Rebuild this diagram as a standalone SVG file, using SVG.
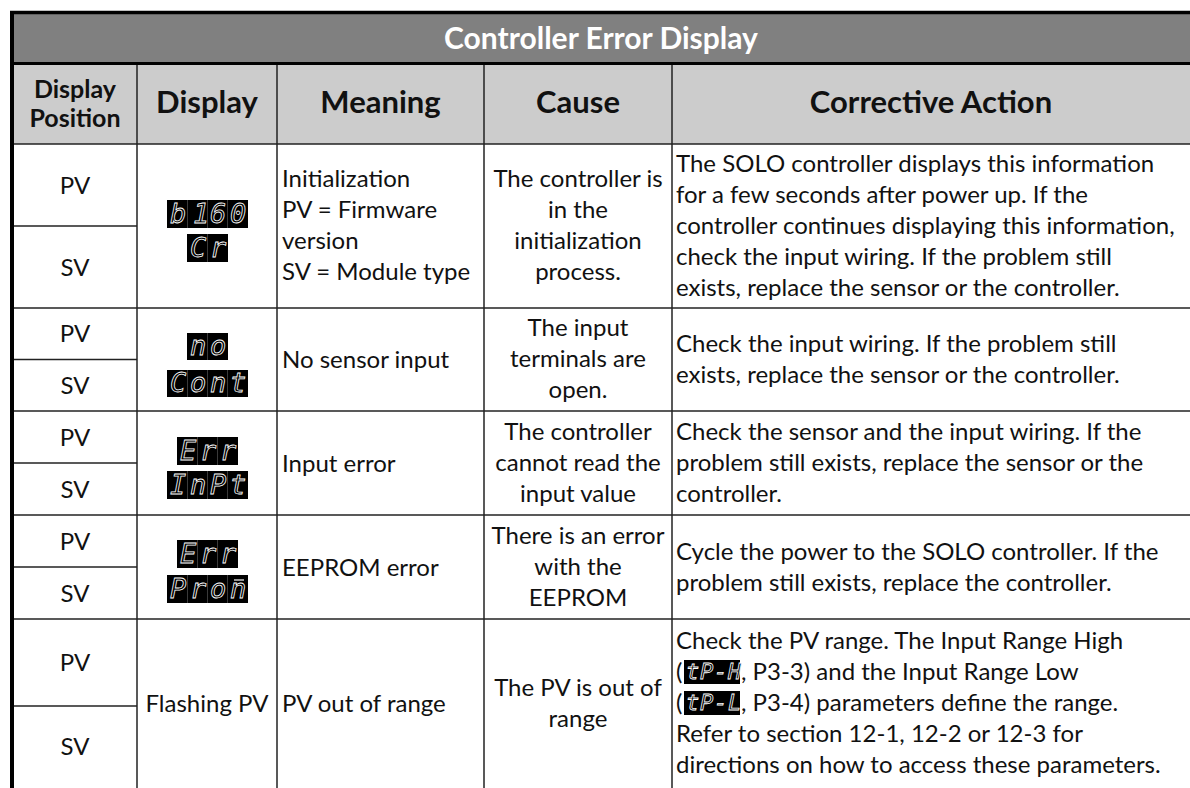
<svg xmlns="http://www.w3.org/2000/svg" width="1190" height="788" viewBox="0 0 1190 788">
  <style>
    .body { font-family: Lato, "Noto Sans", sans-serif; font-size: 24px; fill: #111; }
    .mid { text-anchor: middle; }
    .hdr { font-family: Lato, "Noto Sans", sans-serif; font-weight: bold; fill: #111; text-anchor: middle; }
    .title { font-family: Lato, "Noto Sans", sans-serif; font-weight: bold; font-size: 30px; fill: #fff; text-anchor: middle; }
    .led { fill: #000; }
    .seg { font-family: "DejaVu Sans Mono", "Liberation Mono", monospace; font-style: oblique; font-size: 27px; fill: #000; stroke: #fff; stroke-width: 0.8px; }
    .segs { font-family: "DejaVu Sans Mono", "Liberation Mono", monospace; font-style: oblique; font-size: 22px; fill: #000; stroke: #fff; stroke-width: 0.8px; }
    .cell { stroke: #3a3a3a; stroke-width: 1; }
    .rule { stroke: #222; stroke-width: 1.5; fill: none; }
  </style>

  <!-- background bands -->
  <rect x="0" y="0" width="1190" height="788" fill="#fff"/>
  <rect id="title-band" x="12" y="12" width="1178" height="51" fill="#808080"/>
  <rect id="column-band" x="12" y="64" width="1178" height="80" fill="#cccccc"/>

  <!-- table rules -->
  <g id="connectors">
    <line x1="10" y1="12.5" x2="1190" y2="12.5" stroke="#000" stroke-width="3.5"/>
    <line x1="10" y1="63.5" x2="1190" y2="63.5" stroke="#000" stroke-width="3"/>
    <line x1="12" y1="11" x2="12" y2="788" stroke="#000" stroke-width="4"/>
    <line class="rule" x1="14" y1="144" x2="1190" y2="144"/>
    <line class="rule" x1="137" y1="65" x2="137" y2="788"/>
    <line class="rule" x1="277" y1="65" x2="277" y2="788"/>
    <line class="rule" x1="484" y1="65" x2="484" y2="788"/>
    <line class="rule" x1="672" y1="65" x2="672" y2="788"/>
    <line class="rule" x1="14" y1="308" x2="1190" y2="308"/>
    <line class="rule" x1="14" y1="411" x2="1190" y2="411"/>
    <line class="rule" x1="14" y1="515" x2="1190" y2="515"/>
    <line class="rule" x1="14" y1="619" x2="1190" y2="619"/>
    <line class="rule" x1="14" y1="226" x2="137" y2="226"/>
    <line class="rule" x1="14" y1="359.5" x2="137" y2="359.5"/>
    <line class="rule" x1="14" y1="463" x2="137" y2="463"/>
    <line class="rule" x1="14" y1="567" x2="137" y2="567"/>
    <line class="rule" x1="14" y1="706" x2="137" y2="706"/>
  </g>

  <!-- headings -->
  <g id="title">
    <text class="title" x="601" y="49">Controller Error Display</text>
  </g>
  <g id="columns">
    <text class="hdr" x="75" y="98" font-size="25">Display</text>
    <text class="hdr" x="75" y="127" font-size="25">Position</text>
    <text class="hdr" x="207" y="113" font-size="31">Display</text>
    <text class="hdr" x="380.5" y="113" font-size="31">Meaning</text>
    <text class="hdr" x="578" y="113" font-size="31">Cause</text>
    <text class="hdr" x="931" y="113" font-size="31">Corrective Action</text>
  </g>

  <!-- row 1: initialization -->
  <g id="row-init">
    <text class="body mid" x="75" y="194">PV</text>
    <text class="body mid" x="75" y="276">SV</text>
    <rect class="led" x="167" y="200" width="81" height="28"/>
    <line class="cell" x1="187.5" y1="200" x2="187.5" y2="228"/>
    <line class="cell" x1="207.5" y1="200" x2="207.5" y2="228"/>
    <line class="cell" x1="227.5" y1="200" x2="227.5" y2="228"/>
    <text class="seg" x="170 193 210 230" y="223">b160</text>
    <rect class="led" x="187" y="234" width="41" height="28"/>
    <line class="cell" x1="207.5" y1="234" x2="207.5" y2="262"/>
    <text class="seg" x="190 210" y="257">Cr</text>
    <text class="body" x="282" y="187">Initialization</text>
    <text class="body" x="282" y="218">PV = Firmware</text>
    <text class="body" x="282" y="249">version</text>
    <text class="body" x="282" y="280">SV = Module type</text>
    <text class="body mid" x="578" y="187">The controller is</text>
    <text class="body mid" x="578" y="218">in the</text>
    <text class="body mid" x="578" y="249">initialization</text>
    <text class="body mid" x="578" y="280">process.</text>
    <text class="body" x="676" y="172">The SOLO controller displays this information</text>
    <text class="body" x="676" y="203">for a few seconds after power up. If the</text>
    <text class="body" x="676" y="234">controller continues displaying this information,</text>
    <text class="body" x="676" y="265">check the input wiring. If the problem still</text>
    <text class="body" x="676" y="296">exists, replace the sensor or the controller.</text>
  </g>

  <!-- row 2: no sensor input -->
  <g id="row-nosensor">
    <text class="body mid" x="75" y="342">PV</text>
    <text class="body mid" x="75" y="394">SV</text>
    <rect class="led" x="187" y="333" width="41" height="27"/>
    <line class="cell" x1="207.5" y1="333" x2="207.5" y2="360"/>
    <text class="seg" x="190 210" y="355">no</text>
    <rect class="led" x="167" y="370" width="81" height="27"/>
    <line class="cell" x1="187.5" y1="370" x2="187.5" y2="397"/>
    <line class="cell" x1="207.5" y1="370" x2="207.5" y2="397"/>
    <line class="cell" x1="227.5" y1="370" x2="227.5" y2="397"/>
    <text class="seg" x="170 190 210 230" y="392">Cont</text>
    <text class="body" x="282" y="368">No sensor input</text>
    <text class="body mid" x="578" y="336">The input</text>
    <text class="body mid" x="578" y="367">terminals are</text>
    <text class="body mid" x="578" y="398">open.</text>
    <text class="body" x="676" y="352">Check the input wiring. If the problem still</text>
    <text class="body" x="676" y="383">exists, replace the sensor or the controller.</text>
  </g>

  <!-- row 3: input error -->
  <g id="row-input">
    <text class="body mid" x="75" y="446">PV</text>
    <text class="body mid" x="75" y="498">SV</text>
    <rect class="led" x="177" y="437" width="61" height="28"/>
    <line class="cell" x1="197.5" y1="437" x2="197.5" y2="465"/>
    <line class="cell" x1="217.5" y1="437" x2="217.5" y2="465"/>
    <text class="seg" x="180 200 220" y="460">Err</text>
    <rect class="led" x="167" y="471" width="81" height="28"/>
    <line class="cell" x1="187.5" y1="471" x2="187.5" y2="499"/>
    <line class="cell" x1="207.5" y1="471" x2="207.5" y2="499"/>
    <line class="cell" x1="227.5" y1="471" x2="227.5" y2="499"/>
    <text class="seg" x="170 190 210 230" y="494">InPt</text>
    <text class="body" x="282" y="472">Input error</text>
    <text class="body mid" x="578" y="440">The controller</text>
    <text class="body mid" x="578" y="471">cannot read the</text>
    <text class="body mid" x="578" y="502">input value</text>
    <text class="body" x="676" y="440">Check the sensor and the input wiring. If the</text>
    <text class="body" x="676" y="471">problem still exists, replace the sensor or the</text>
    <text class="body" x="676" y="502">controller.</text>
  </g>

  <!-- row 4: EEPROM error -->
  <g id="row-eeprom">
    <text class="body mid" x="75" y="550">PV</text>
    <text class="body mid" x="75" y="602">SV</text>
    <rect class="led" x="177" y="540" width="61" height="28"/>
    <line class="cell" x1="197.5" y1="540" x2="197.5" y2="568"/>
    <line class="cell" x1="217.5" y1="540" x2="217.5" y2="568"/>
    <text class="seg" x="180 200 220" y="563">Err</text>
    <rect class="led" x="167" y="575" width="81" height="28"/>
    <line class="cell" x1="187.5" y1="575" x2="187.5" y2="603"/>
    <line class="cell" x1="207.5" y1="575" x2="207.5" y2="603"/>
    <line class="cell" x1="227.5" y1="575" x2="227.5" y2="603"/>
    <text class="seg" x="170 190 210 230" y="598">Pron</text>
    <!-- top segment lit above the last digit -->
    <line x1="234" y1="580" x2="244" y2="580" stroke="#fff" stroke-width="1.2"/>
    <text class="body" x="282" y="576">EEPROM error</text>
    <text class="body mid" x="578" y="544">There is an error</text>
    <text class="body mid" x="578" y="575">with the</text>
    <text class="body mid" x="578" y="606">EEPROM</text>
    <text class="body" x="676" y="560">Cycle the power to the SOLO controller. If the</text>
    <text class="body" x="676" y="591">problem still exists, replace the controller.</text>
  </g>

  <!-- row 5: PV out of range -->
  <g id="row-range">
    <text class="body mid" x="75" y="671">PV</text>
    <text class="body mid" x="75" y="755">SV</text>
    <text class="body mid" x="207" y="712">Flashing PV</text>
    <text class="body" x="282" y="712">PV out of range</text>
    <text class="body mid" x="578" y="696">The PV is out of</text>
    <text class="body mid" x="578" y="727">range</text>
    <text class="body" x="676" y="649">Check the PV range. The Input Range High</text>
    <text class="body" x="676" y="680">(</text>
    <rect class="led" x="684" y="660" width="56" height="24"/>
    <text class="segs" x="686 700 714 728" y="679">tP-H</text>
    <text class="body" x="741" y="680">, P3-3) and the Input Range Low</text>
    <text class="body" x="676" y="711">(</text>
    <rect class="led" x="684" y="691" width="56" height="24"/>
    <text class="segs" x="686 700 714 728" y="710">tP-L</text>
    <text class="body" x="741" y="711">, P3-4) parameters define the range.</text>
    <text class="body" x="676" y="742">Refer to section 12-1, 12-2 or 12-3 for</text>
    <text class="body" x="676" y="773">directions on how to access these parameters.</text>
  </g>
</svg>
